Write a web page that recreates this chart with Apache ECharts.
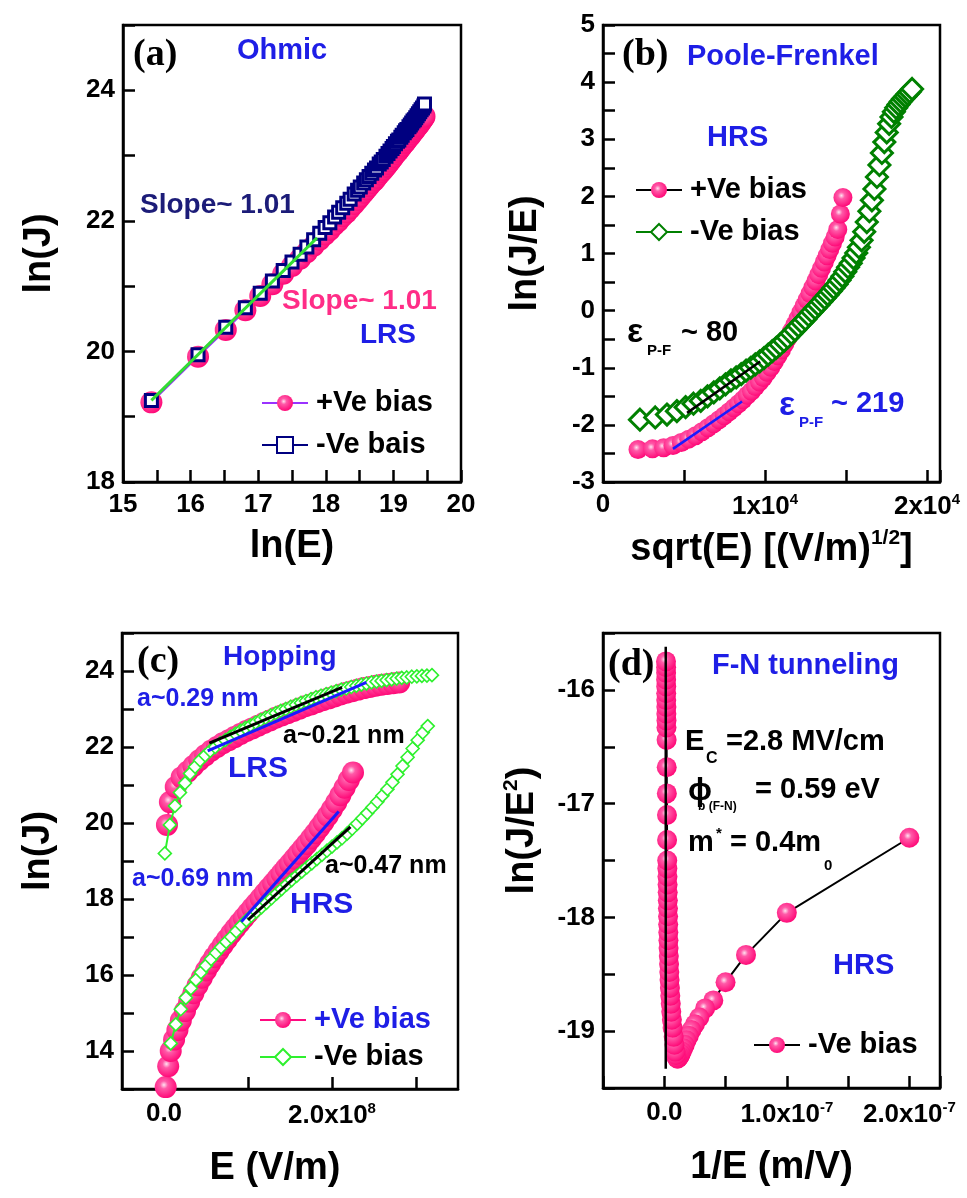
<!DOCTYPE html>
<html>
<head>
<meta charset="utf-8">
<script src="https://cdn.jsdelivr.net/npm/echarts@6/dist/echarts.min.js"></script>
<style>
html, body { margin: 0; padding: 0; background: #fff; }
#chart { width: 967px; height: 1198px; }
</style>
</head>
<body>
<div id="chart"></div>
<script>
// ---------- (a) Ohmic conduction, LRS ----------
const ohmicLnE = [15.42,16.11,16.52,16.81,17.03,17.21,17.37,17.50,17.62,17.72,17.82,17.91,17.99,18.06,18.13,18.19,18.25,18.31,18.36,18.42,18.47,18.51,18.56,18.60,18.64,18.68,18.72,18.75,18.79,18.82,18.85,18.89,18.92,18.95,18.98,19.00,19.03,19.06,19.08,19.11,19.13,19.16,19.18,19.20,19.23,19.25,19.27,19.29,19.31,19.33,19.35,19.37,19.39,19.41,19.43,19.45,19.46];
const ohmicPosLnJ = [19.22,19.92,20.33,20.63,20.85,21.03,21.19,21.31,21.42,21.52,21.62,21.71,21.79,21.86,21.94,22.00,22.07,22.13,22.19,22.26,22.32,22.37,22.43,22.48,22.53,22.58,22.62,22.66,22.71,22.75,22.78,22.83,22.87,22.91,22.95,22.98,23.02,23.06,23.08,23.12,23.15,23.19,23.21,23.24,23.28,23.30,23.33,23.36,23.38,23.41,23.44,23.46,23.49,23.52,23.55,23.58,23.60];
const ohmicNegLnJ = [19.25,19.95,20.37,20.67,20.89,21.08,21.24,21.37,21.49,21.60,21.71,21.81,21.90,21.97,22.06,22.13,22.20,22.27,22.33,22.41,22.47,22.52,22.58,22.63,22.68,22.73,22.78,22.81,22.87,22.90,22.94,22.99,23.03,23.07,23.11,23.14,23.18,23.22,23.24,23.28,23.31,23.35,23.38,23.40,23.44,23.47,23.50,23.53,23.55,23.58,23.61,23.64,23.67,23.70,23.73,23.76,23.79];
const ohmicFitLnE = [15.42, 17.87];
const ohmicFitLnJ = [19.25, 21.74];

// ---------- (b) Poole-Frenkel, HRS ----------
const pfPosSqrtE = [2160,3055,3741,4320,4830,5291,5715,6109,6480,6831,7164,7482,7788,8082,8366,8640,8906,9164,9415,9660,9898,10131,10359,10582,10800,11014,11224,11430,11632,11830,12026,12219,12408,12595,12779,12960,13139,13315,13489,13661,13831,13998,14164,14328,14490,14650,14808];
const pfPosLnJE = [-2.43,-2.42,-2.40,-2.36,-2.31,-2.25,-2.19,-2.12,-2.05,-1.98,-1.91,-1.84,-1.77,-1.70,-1.63,-1.56,-1.48,-1.41,-1.33,-1.25,-1.17,-1.08,-0.99,-0.89,-0.79,-0.69,-0.58,-0.47,-0.36,-0.25,-0.14,-0.03,0.08,0.19,0.30,0.41,0.52,0.63,0.74,0.85,0.96,1.07,1.18,1.29,1.42,1.69,1.98];
const pfNegSqrtE = [2280,3224,3949,4560,5098,5585,6032,6449,6840,7210,7562,7898,8221,8531,8830,9120,9401,9673,9938,10196,10448,10694,10935,11170,11400,11626,11847,12065,12278,12488,12694,12898,13098,13295,13489,13680,13869,14055,14238,14420,14599,14776,14951,15124,15294,15463,15631,15796,15960,16122,16282,16441,16598,16753,16908,17061,17214,17364,17513,17661,17807,17953,18096,18240,18381,18523,18662,18801,18940,19077];
const pfNegLnJE = [-1.91,-1.87,-1.82,-1.76,-1.69,-1.63,-1.58,-1.50,-1.43,-1.36,-1.29,-1.22,-1.17,-1.11,-1.05,-1.00,-0.94,-0.89,-0.83,-0.77,-0.71,-0.65,-0.59,-0.53,-0.47,-0.40,-0.34,-0.27,-0.21,-0.15,-0.08,-0.02,0.04,0.10,0.16,0.22,0.28,0.34,0.40,0.46,0.53,0.60,0.68,0.76,0.83,0.92,1.01,1.11,1.23,1.38,1.55,1.74,1.93,2.13,2.34,2.55,2.76,2.95,3.12,3.27,3.39,3.48,3.55,3.61,3.66,3.71,3.75,3.79,3.83,3.88];
const pfFitNegSqrtE = [5190, 9700];
const pfFitNegLnJE = [-1.79, -0.89];
const pfFitPosSqrtE = [4320, 8580];
const pfFitPosLnJE = [-2.42, -1.59];

// ---------- (c) Hopping, LRS and HRS ----------
const hopLrsPosE = [0.035e8,0.07e8,0.14e8,0.21e8,0.28e8,0.35e8,0.42e8,0.49e8,0.56e8,0.63e8,0.70e8,0.77e8,0.84e8,0.91e8,0.98e8,1.05e8,1.12e8,1.19e8,1.26e8,1.33e8,1.40e8,1.47e8,1.54e8,1.61e8,1.68e8,1.75e8,1.82e8,1.89e8,1.96e8,2.03e8,2.10e8,2.17e8,2.24e8,2.31e8,2.38e8,2.45e8,2.52e8,2.59e8,2.66e8,2.73e8,2.80e8];
const hopLrsPosLnJ = [19.95,20.55,20.95,21.2,21.35,21.5,21.65,21.78,21.9,22.0,22.1,22.18,22.26,22.34,22.42,22.49,22.56,22.63,22.7,22.77,22.83,22.89,22.95,23.01,23.07,23.12,23.18,23.23,23.28,23.33,23.38,23.43,23.47,23.51,23.55,23.58,23.61,23.64,23.66,23.68,23.70];
const hopLrsNegE = [0.01e8,0.07e8,0.13e8,0.19e8,0.25e8,0.31e8,0.37e8,0.43e8,0.49e8,0.55e8,0.61e8,0.67e8,0.73e8,0.79e8,0.85e8,0.91e8,0.97e8,1.03e8,1.09e8,1.15e8,1.21e8,1.27e8,1.33e8,1.39e8,1.45e8,1.51e8,1.57e8,1.63e8,1.69e8,1.75e8,1.81e8,1.87e8,1.93e8,1.99e8,2.05e8,2.11e8,2.17e8,2.23e8,2.29e8,2.35e8,2.41e8,2.47e8,2.53e8,2.59e8,2.65e8,2.71e8,2.77e8,2.83e8,2.89e8,2.95e8,3.01e8,3.07e8,3.13e8,3.19e8];
const hopLrsNegLnJ = [19.2,19.95,20.45,20.8,21.05,21.3,21.48,21.65,21.78,21.9,22.0,22.1,22.18,22.27,22.35,22.43,22.5,22.57,22.64,22.71,22.77,22.83,22.89,22.95,23.0,23.06,23.11,23.16,23.21,23.26,23.31,23.35,23.39,23.43,23.47,23.51,23.54,23.58,23.61,23.64,23.67,23.7,23.72,23.74,23.76,23.78,23.8,23.82,23.83,23.85,23.86,23.87,23.88,23.89];
const hopHrsPosE = [0.02e8,0.05e8,0.08e8,0.12e8,0.16e8,0.20e8,0.25e8,0.30e8,0.35e8,0.40e8,0.45e8,0.50e8,0.55e8,0.60e8,0.65e8,0.70e8,0.75e8,0.80e8,0.85e8,0.90e8,0.95e8,1.00e8,1.05e8,1.10e8,1.15e8,1.20e8,1.25e8,1.30e8,1.35e8,1.40e8,1.45e8,1.50e8,1.55e8,1.60e8,1.65e8,1.70e8,1.75e8,1.80e8,1.85e8,1.90e8,1.95e8,2.00e8,2.05e8,2.10e8,2.15e8,2.20e8,2.25e8];
const hopHrsPosLnJ = [13.05,13.6,14.0,14.3,14.55,14.8,15.05,15.3,15.52,15.73,15.93,16.12,16.3,16.47,16.63,16.79,16.94,17.09,17.23,17.37,17.5,17.63,17.76,17.89,18.02,18.15,18.28,18.41,18.54,18.67,18.8,18.93,19.06,19.19,19.32,19.45,19.59,19.73,19.88,20.03,20.19,20.36,20.54,20.73,20.93,21.13,21.33];
const hopHrsNegE = [0.08e8,0.14e8,0.20e8,0.26e8,0.32e8,0.38e8,0.44e8,0.50e8,0.56e8,0.62e8,0.68e8,0.74e8,0.80e8,0.86e8,0.92e8,0.98e8,1.04e8,1.10e8,1.16e8,1.22e8,1.28e8,1.34e8,1.40e8,1.46e8,1.52e8,1.58e8,1.64e8,1.70e8,1.76e8,1.82e8,1.88e8,1.94e8,2.00e8,2.06e8,2.12e8,2.18e8,2.24e8,2.30e8,2.36e8,2.42e8,2.48e8,2.54e8,2.60e8,2.66e8,2.72e8,2.78e8,2.84e8,2.90e8,2.96e8,3.02e8,3.08e8,3.14e8];
const hopHrsNegLnJ = [14.2,14.7,15.1,15.4,15.65,15.87,16.07,16.25,16.42,16.58,16.73,16.87,17.0,17.15,17.3,17.44,17.56,17.67,17.78,17.9,18.02,18.14,18.26,18.38,18.5,18.61,18.72,18.83,18.94,19.05,19.16,19.27,19.38,19.49,19.6,19.72,19.85,19.98,20.12,20.26,20.41,20.56,20.72,20.89,21.07,21.28,21.5,21.73,21.96,22.18,22.38,22.55];
const hopFitLrsBlueE = [0.52e8, 2.41e8];
const hopFitLrsBlueLnJ = [21.9, 23.7];
const hopFitLrsBlackE = [0.54e8, 2.12e8];
const hopFitLrsBlackLnJ = [22.1, 23.57];
const hopFitHrsBlueE = [0.92e8, 2.08e8];
const hopFitHrsBlueLnJ = [17.4, 20.3];
const hopFitHrsBlackE = [1.0e8, 2.22e8];
const hopFitHrsBlackLnJ = [17.45, 19.9];

// ---------- (d) Fowler-Nordheim tunneling, HRS ----------
const fnInvE = [2.0e-7,1.0e-7,0.667e-7,0.5e-7,0.4e-7,0.333e-7,0.286e-7,0.25e-7,0.222e-7,0.2e-7,0.182e-7,0.167e-7,0.154e-7,0.143e-7,0.133e-7,0.125e-7,0.118e-7,0.111e-7,0.105e-7,0.1e-7,0.095e-7,0.091e-7,0.083e-7,0.077e-7,0.068e-7,0.062e-7,0.057e-7,0.053e-7,0.049e-7,0.046e-7,0.043e-7,0.041e-7,0.039e-7,0.037e-7,0.035e-7,0.034e-7,0.033e-7,0.032e-7,0.031e-7,0.030e-7,0.029e-7,0.028e-7,0.027e-7,0.026e-7,0.025e-7,0.024e-7,0.023e-7,0.022e-7,0.021e-7,0.020e-7,0.019e-7,0.018e-7,0.018e-7,0.017e-7,0.017e-7,0.016e-7,0.016e-7,0.016e-7,0.015e-7,0.015e-7,0.015e-7,0.014e-7];
const fnLnJE2 = [-17.30,-17.96,-18.33,-18.57,-18.73,-18.80,-18.88,-18.94,-18.99,-19.04,-19.08,-19.12,-19.15,-19.18,-19.20,-19.22,-19.23,-19.24,-19.24,-19.23,-19.21,-19.18,-19.12,-19.05,-18.97,-18.90,-18.83,-18.76,-18.69,-18.62,-18.55,-18.48,-18.41,-18.34,-18.27,-18.20,-18.13,-18.06,-17.99,-17.92,-17.85,-17.78,-17.71,-17.64,-17.57,-17.50,-17.32,-17.10,-16.91,-16.68,-16.44,-16.33,-16.27,-16.21,-16.15,-16.09,-16.03,-15.97,-15.91,-15.85,-15.80,-15.75];
const fnFitInvE = [0.012e-7, 0.012e-7];
const fnFitLnJE2 = [-15.62, -19.33];

// ---------- styling ----------
const F = "'Liberation Sans', Arial, Helvetica, sans-serif";
const SERIF = "'Liberation Serif', 'Times New Roman', serif";
const PINK = '#ff0a80';
const BLUE = '#1e1ee6';
const NAVY = '#000080';
const DKGREEN = '#008000';
const LTGREEN = '#2ef02e';

const sphere = {
  type: 'radial', x: 0.42, y: 0.4, r: 0.6,
  colorStops: [
    { offset: 0, color: '#ffe3f0' },
    { offset: 0.3, color: '#ff5aa8' },
    { offset: 1, color: '#ff0a78' }
  ]
};

const pairs = (xs, ys) => xs.map((x, i) => [x, ys[i]]);

const TICK_RICH = {
  m: { fontFamily: F, fontWeight: 'bold', fontSize: 26, color: '#000', lineHeight: 30 },
  s: { fontFamily: F, fontWeight: 'bold', fontSize: 15, color: '#000', verticalAlign: 'top', lineHeight: 15 }
};
const NAME_RICH = {
  n: { fontFamily: F, fontWeight: 'bold', fontSize: 38, color: '#000', lineHeight: 44 },
  s: { fontFamily: F, fontWeight: 'bold', fontSize: 21, color: '#000', verticalAlign: 'top', lineHeight: 21 }
};

const isInt = v => Math.abs(v - Math.round(v)) < 1e-6;
const intOnly = v => isInt(v) ? String(Math.round(v)) : '';
const evenOnly = v => (isInt(v) && Math.round(v) % 2 === 0) ? String(Math.round(v)) : '';

function mkAxis(p) {
  const ax = {
    type: 'value', gridIndex: p.grid, min: p.min, max: p.max,
    name: p.name, nameLocation: 'middle', nameGap: p.gap,
    nameTextStyle: { color: '#000', fontFamily: F, fontWeight: 'bold', fontSize: 38, padding: p.namePad || 0, rich: NAME_RICH },
    axisLine: { show: true, onZero: false, lineStyle: { color: '#000', width: 2.5 } },
    axisTick: { show: true, inside: true, length: 12, lineStyle: { color: '#000', width: 2.5 } },
    splitLine: { show: false },
    axisLabel: { show: true, color: '#000', fontFamily: F, fontWeight: 'bold', fontSize: 26, margin: p.margin || 8, formatter: p.fmt, rich: TICK_RICH, hideOverlap: false }
  };
  if (p.interval != null) ax.interval = p.interval;
  if (p.ticks) ax.axisTick.customValues = p.ticks;
  if (p.labels) ax.axisLabel.customValues = p.labels;
  return ax;
}

const xAxes = [
  mkAxis({ grid: 0, min: 15, max: 20, interval: 0.5, fmt: intOnly, name: 'ln(E)', gap: 46, margin: 10 }),
  mkAxis({ grid: 1, min: 0, max: 20800, interval: 5000, margin: 10, gap: 46,
    name: '{n|sqrt(E) [(V/m)}{s|1/2}{n|]}',
    fmt: v => v === 0 ? '0' : (v % 10000 === 0 ? '{m|' + (v / 10000) + 'x10}{s|4}' : '') }),
  mkAxis({ grid: 2, min: -5e7, max: 3.5e8, ticks: [0, 1e8, 2e8, 3e8], labels: [0, 2e8], margin: 12, gap: 61,
    name: 'E (V/m)', namePad: [0, 30, 0, 0],
    fmt: v => v === 0 ? '0.0' : (Math.abs(v - 2e8) < 1 ? '{m|2.0x10}{s|8}' : '') }),
  mkAxis({ grid: 3, min: -5e-8, max: 2.25e-7, interval: 5e-8, margin: 12, gap: 61,
    name: '1/E (m/V)',
    fmt: v => {
      if (Math.abs(v) < 1e-12) return '0.0';
      const k = v / 1e-7;
      return isInt(k) ? '{m|' + Math.round(k).toFixed(1) + 'x10}{s|-7}' : '';
    } })
];

const yAxes = [
  mkAxis({ grid: 0, min: 18, max: 25, interval: 1, fmt: evenOnly, name: 'ln(J)', gap: 64 }),
  mkAxis({ grid: 1, min: -3, max: 5, interval: 0.5, fmt: intOnly, name: 'ln(J/E)', gap: 58 }),
  mkAxis({ grid: 2, min: 13, max: 25, interval: 1, fmt: evenOnly, name: 'ln(J)', gap: 64, namePad: [0, 0, 0, 20] }),
  mkAxis({ grid: 3, min: -19.5, max: -15.5, interval: 0.5, fmt: intOnly, name: '{n|ln(J/E}{s|2}{n|)}', gap: 58, namePad: [0, 0, 0, 60] })
];

const grids = [
  { left: 123, top: 25, width: 338, height: 457 },
  { left: 603, top: 25, width: 337, height: 457 },
  { left: 122, top: 633, width: 336, height: 456 },
  { left: 603, top: 633, width: 337, height: 455 }
].map(g => Object.assign({ show: true, borderColor: '#000', borderWidth: 2.5, backgroundColor: 'transparent' }, g));

function pinkSeries(name, gi, xs, ys, lineColor, size, z) {
  return {
    name, type: 'line', xAxisIndex: gi, yAxisIndex: gi, data: pairs(xs, ys),
    symbol: 'circle', symbolSize: size, z: z || 2,
    itemStyle: { color: sphere, borderWidth: 0 },
    lineStyle: { color: lineColor, width: 2 }
  };
}
function hollowSeries(name, gi, xs, ys, symbol, size, color, bw, z) {
  return {
    name, type: 'line', xAxisIndex: gi, yAxisIndex: gi, data: pairs(xs, ys),
    symbol, symbolSize: size, z: z || 3,
    itemStyle: { color: '#fff', borderColor: color, borderWidth: bw },
    lineStyle: { color, width: 2 }
  };
}
function fitSeries(gi, xs, ys, color, width, z) {
  return {
    type: 'line', xAxisIndex: gi, yAxisIndex: gi, data: pairs(xs, ys),
    symbol: 'none', z: z || 5, lineStyle: { color, width: width || 3 }
  };
}

const series = [
  // (a)
  pinkSeries('aPos', 0, ohmicLnE, ohmicPosLnJ, '#9a32ff', 22, 2),
  hollowSeries('aNeg', 0, ohmicLnE, ohmicNegLnJ, 'rect', 12, NAVY, 3, 3),
  fitSeries(0, ohmicFitLnE, ohmicFitLnJ, '#33dd33', 3),
  // (b)
  pinkSeries('bPos', 1, pfPosSqrtE, pfPosLnJE, '#000', 19, 2),
  hollowSeries('bNeg', 1, pfNegSqrtE, pfNegLnJE, 'diamond', 21, DKGREEN, 3, 3),
  fitSeries(1, pfFitNegSqrtE, pfFitNegLnJE, '#000', 2.5),
  fitSeries(1, pfFitPosSqrtE, pfFitPosLnJE, '#1a1aff', 2.5),
  // (c)
  pinkSeries('cPos', 2, hopHrsPosE, hopHrsPosLnJ, PINK, 22, 2),
  pinkSeries('cPosL', 2, hopLrsPosE, hopLrsPosLnJ, PINK, 22, 2),
  hollowSeries('cNeg', 2, hopHrsNegE, hopHrsNegLnJ, 'diamond', 13, LTGREEN, 1.6, 3),
  hollowSeries('cNegL', 2, hopLrsNegE, hopLrsNegLnJ, 'diamond', 13, LTGREEN, 1.6, 3),
  fitSeries(2, hopFitLrsBlueE, hopFitLrsBlueLnJ, '#1a1aff', 3),
  fitSeries(2, hopFitLrsBlackE, hopFitLrsBlackLnJ, '#000', 3),
  fitSeries(2, hopFitHrsBlueE, hopFitHrsBlueLnJ, '#1a1aff', 3),
  fitSeries(2, hopFitHrsBlackE, hopFitHrsBlackLnJ, '#000', 3),
  // (d)
  pinkSeries('dNeg', 3, fnInvE, fnLnJE2, '#000', 20, 2),
  fitSeries(3, fnFitInvE, fnFitLnJE2, '#000', 2.5)
];

const legendNames = { aPos: '+Ve bias', aNeg: '-Ve bais', bPos: '+Ve bias', bNeg: '-Ve bias', cPos: '+Ve bias', cNeg: '-Ve bias', dNeg: '-Ve bias' };
function mkLegend(left, top, gap, data) {
  return {
    left, top, orient: 'vertical', itemGap: gap, itemWidth: 46, itemHeight: 20,
    selectedMode: false, data,
    formatter: n => legendNames[n],
    textStyle: { fontFamily: F, fontWeight: 'bold', fontSize: 29, color: '#000', lineHeight: 30, padding: [0, 0, 0, 3] }
  };
}
const legends = [
  mkLegend(256, 383, 12, ['aPos', 'aNeg']),
  mkLegend(630, 170, 12, ['bPos', 'bNeg']),
  mkLegend(254, 1000, 7, [{ name: 'cPos', textStyle: { color: BLUE } }, 'cNeg']),
  mkLegend(748, 1025, 8, ['dNeg'])
];

// panel annotations
function t(x, y, text, size, color, family) {
  return {
    type: 'text', x, y, z: 100,
    style: { text, fill: color || '#000', fontFamily: family || F, fontWeight: 'bold', fontSize: size, verticalAlign: 'middle', align: 'left' }
  };
}
const notes = [
  // (a)
  t(133, 55, '(a)', 38, '#000', SERIF),
  t(237, 51, 'Ohmic', 29, BLUE),
  t(140, 205, 'Slope~ 1.01', 28, '#1c1c78'),
  t(282, 301, 'Slope~ 1.01', 28, '#ff2d87'),
  t(360, 335, 'LRS', 28, BLUE),
  // (b)
  t(622, 55, '(b)', 38, '#000', SERIF),
  t(687, 57, 'Poole-Frenkel', 29, BLUE),
  t(707, 138, 'HRS', 29, BLUE),
  t(627, 333, 'ε', 34, '#000'),
  t(647, 351, 'P-F', 15, '#000'),
  t(681, 333, '~ 80', 29, '#000'),
  t(779, 406, 'ε', 34, BLUE),
  t(799, 423, 'P-F', 15, BLUE),
  t(831, 404, '~ 219', 29, BLUE),
  // (c)
  t(137, 662, '(c)', 38, '#000', SERIF),
  t(223, 657, 'Hopping', 28, BLUE),
  t(137, 699, 'a~0.29 nm', 25, BLUE),
  t(283, 736, 'a~0.21 nm', 25, '#000'),
  t(228, 769, 'LRS', 30, BLUE),
  t(132, 879, 'a~0.69 nm', 25, BLUE),
  t(325, 866, 'a~0.47 nm', 25, '#000'),
  t(290, 905, 'HRS', 30, BLUE),
  // (d)
  t(608, 665, '(d)', 38, '#000', SERIF),
  t(712, 666, 'F-N tunneling', 29, BLUE),
  t(685, 742, 'E', 29, '#000'),
  t(706, 759, 'C', 16, '#000'),
  t(726, 742, '=2.8 MV/cm', 29, '#000'),
  t(688, 791, 'ϕ', 32, '#000'),
  t(698, 807, 'b (F-N)', 12, '#000'),
  t(755, 790, '= 0.59 eV', 29, '#000'),
  t(688, 843, 'm', 29, '#000'),
  t(716, 834, '*', 15, '#000'),
  t(730, 843, '= 0.4m', 29, '#000'),
  t(824, 866, '0', 15, '#000'),
  t(833, 966, 'HRS', 29, BLUE)
];

const chart = echarts.init(document.getElementById('chart'), null, { renderer: 'canvas' });
chart.setOption({
  animation: false,
  backgroundColor: '#fff',
  textStyle: { fontFamily: F },
  grid: grids,
  xAxis: xAxes,
  yAxis: yAxes,
  legend: legends,
  series,
  graphic: notes
});
</script>
</body>
</html>
